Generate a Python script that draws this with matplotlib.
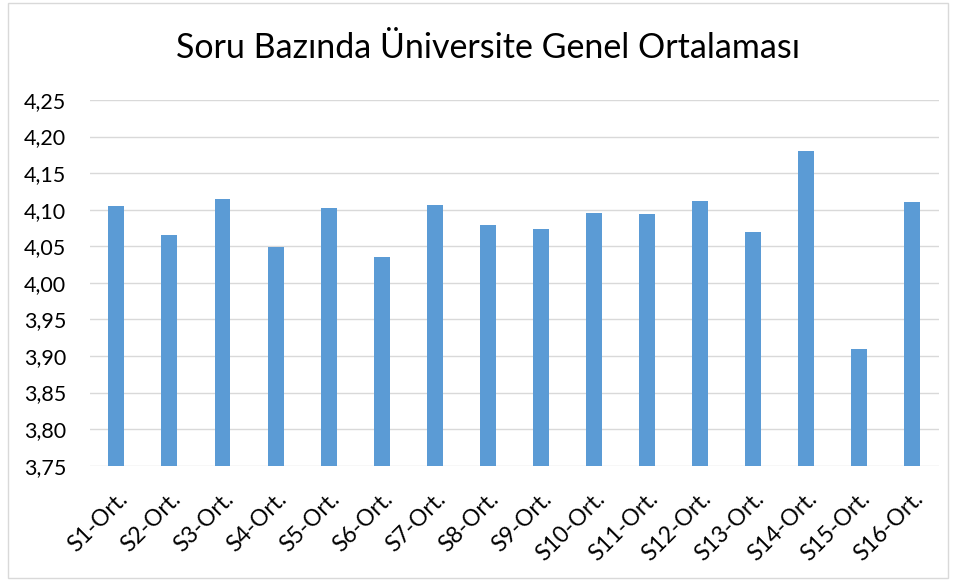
import matplotlib.pyplot as plt
from matplotlib.ticker import FuncFormatter
from matplotlib.patches import Rectangle

plt.rcParams['font.family'] = ['Lato', 'DejaVu Sans']

# Veri
labels = ['S1-Ort.', 'S2-Ort.', 'S3-Ort.', 'S4-Ort.', 'S5-Ort.', 'S6-Ort.',
          'S7-Ort.', 'S8-Ort.', 'S9-Ort.', 'S10-Ort.', 'S11-Ort.', 'S12-Ort.',
          'S13-Ort.', 'S14-Ort.', 'S15-Ort.', 'S16-Ort.']
values = [4.105, 4.066, 4.115, 4.049, 4.102, 4.035, 4.107, 4.079,
          4.074, 4.096, 4.094, 4.112, 4.070, 4.180, 3.910, 4.110]
yticks = [3.75, 3.80, 3.85, 3.90, 3.95, 4.00, 4.05, 4.10, 4.15, 4.20, 4.25]

fig = plt.figure(figsize=(9.56, 5.81), dpi=100)
ax = fig.add_axes([0.094, 0.1985, 0.888, 0.6295])

x = range(len(labels))
ax.bar(x, values, width=0.3, color='#5b9bd5', zorder=3)

ax.set_ylim(3.75, 4.25)
ax.set_xlim(-0.5, len(labels) - 0.5)
ax.set_yticks(yticks)
ax.yaxis.set_major_formatter(FuncFormatter(lambda v, p: '{:.2f}'.format(v).replace('.', ',')))
ax.set_xticks(list(x))
ax.set_xticklabels(labels, rotation=45, ha='right', rotation_mode='anchor')
ax.grid(axis='y', color='#d9d9d9', linewidth=1, zorder=0)
for s in ax.spines.values():
    s.set_visible(False)
ax.tick_params(axis='both', length=0, colors='#000000')
ax.tick_params(axis='y', pad=17, labelsize=15.5)
ax.tick_params(axis='x', pad=16, labelsize=16.5)

fig.text(0.51, 0.917, 'Soru Bazında Üniversite Genel Ortalaması', ha='center', va='center',
         fontsize=24.5)

# dis cerceve
fig.patches.append(Rectangle((0.008, 0.006), 0.984, 0.988, transform=fig.transFigure,
                             fill=False, edgecolor='#d9d9d9', linewidth=1))

fig.savefig('out.png', dpi=100)
